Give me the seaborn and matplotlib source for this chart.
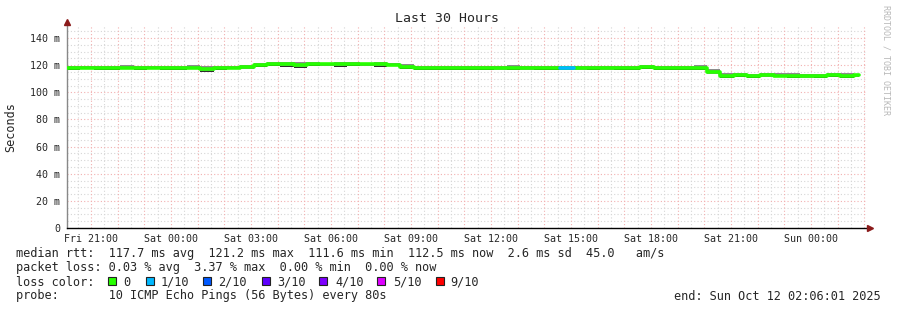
import numpy as np
import pandas as pd
import matplotlib
matplotlib.use("Agg")
import matplotlib.pyplot as plt
import seaborn as sns
from matplotlib.patches import Rectangle

# ---------------- data ----------------
# 30-minute steps, hours since Fri 20:06 (start of the 30 hour window)
step_hours = 0.5
end_hour = 29.7
median_ms = [118.1, 118.0, 118.2, 118.0, 118.1, 118.0, 118.2, 118.0, 118.1, 118.0,
             116.8, 118.0, 118.0, 118.4, 120.3, 120.8, 120.5, 119.8, 120.6, 120.7,
             120.5, 120.8, 120.7, 120.6, 120.4, 118.6, 117.8, 117.9, 117.7, 118.0,
             117.8, 117.9, 117.6, 117.8, 117.7, 117.9, 117.8, 117.9, 117.7, 117.8,
             117.6, 117.8, 117.9, 118.6, 117.8, 117.9, 118.0, 118.2, 114.6, 112.3,
             112.4, 112.2, 112.5, 112.3, 112.1, 111.7, 112.3, 112.4, 112.3, 112.5]
smoke_hi = [119.7, 119.3, 119.7, 119.5, 119.9, 119.4, 119.7, 119.6, 119.4, 120.0,
            119.2, 119.5, 119.3, 120.1, 121.7, 122.3, 122.2, 122.0, 122.3, 121.8,
            122.0, 122.2, 121.8, 122.0, 121.9, 120.9, 119.4, 119.2, 119.6, 119.4,
            119.6, 119.2, 119.4, 119.9, 119.5, 119.3, 119.6, 119.5, 119.4, 119.2,
            119.4, 119.6, 119.7, 120.0, 119.5, 119.2, 119.7, 119.8, 116.9, 113.9,
            114.1, 113.5, 114.0, 114.1, 114.3, 113.6, 113.5, 114.0, 114.2, 113.6]
smoke_lo = [116.5, 116.9, 116.7, 116.5, 116.9, 116.4, 116.8, 116.5, 116.6, 116.9,
            115.3, 116.5, 116.9, 116.9, 118.8, 119.5, 119.0, 118.2, 119.4, 119.1,
            118.9, 119.5, 119.1, 118.9, 119.2, 117.1, 116.2, 116.6, 116.2, 116.4,
            116.7, 116.3, 116.1, 116.6, 116.1, 116.3, 116.7, 116.3, 116.1, 116.6,
            116.1, 116.2, 116.6, 117.0, 116.2, 116.6, 116.4, 116.6, 113.2, 110.8,
            111.2, 110.7, 110.9, 111.2, 110.6, 110.2, 110.8, 111.2, 110.8, 111.0]
loss_tenths = [0] * 37 + [1] + [0] * 22

tick_hours = [0.9, 3.9, 6.9, 9.9, 12.9, 15.9, 18.9, 21.9, 24.9, 27.9]
tick_labels = ["Fri 21:00", "Sat 00:00", "Sat 03:00", "Sat 06:00", "Sat 09:00",
               "Sat 12:00", "Sat 15:00", "Sat 18:00", "Sat 21:00", "Sun 00:00"]
y_ticks = [0, 20, 40, 60, 80, 100, 120, 140]
y_labels = ["0", "20 m", "40 m", "60 m", "80 m", "100 m", "120 m", "140 m"]

loss_names = ["0", "1/10", "2/10", "3/10", "4/10", "5/10", "9/10"]
loss_colors = ["#26ff00", "#00b8ff", "#0059ff", "#5e00ff", "#7e00ff", "#dd00ff", "#ff0000"]
loss_color_by_tenth = {0: "#26ff00", 1: "#00b8ff", 2: "#0059ff", 3: "#5e00ff",
                       4: "#7e00ff", 5: "#dd00ff", 9: "#ff0000"}

stats_line = "median rtt:  117.7 ms avg  121.2 ms max  111.6 ms min  112.5 ms now  2.6 ms sd  45.0   am/s"
loss_line = "packet loss: 0.03 % avg  3.37 % max  0.00 % min  0.00 % now"
probe_line = "probe:       10 ICMP Echo Pings (56 Bytes) every 80s"
end_line = "end: Sun Oct 12 02:06:01 2025"

# ---------------- build step frame ----------------
n = len(median_ms)
starts = [i * step_hours for i in range(n)]
edges_t = starts + [end_hour]
df = pd.DataFrame({"t": edges_t,
                   "median": median_ms + [median_ms[-1]],
                   "hi": smoke_hi + [smoke_hi[-1]],
                   "lo": smoke_lo + [smoke_lo[-1]]})

# ---------------- figure ----------------
sns.set_style("white")
mono = ["DejaVu Sans Mono"]
plt.rcParams["font.family"] = mono

W, H = 897, 310
fig = plt.figure(figsize=(W / 100, H / 100), dpi=100)
ax_left, ax_right, ax_bottom, ax_top = 67, 867, 228, 26
ax = fig.add_axes([ax_left / W, 1 - ax_bottom / H, (ax_right - ax_left) / W,
                   (ax_bottom - ax_top) / H])
ax.set_xlim(0, 30)
ax.set_ylim(0, (ax_bottom - ax_top) / 190 * 140)

# grid
for v in np.arange(0, 149, 5):
    if v % 20 == 0:
        continue
    ax.axhline(v, color="#d6d6d6", lw=0.8, ls=(0, (1, 2)), zorder=0)
for v in y_ticks[1:]:
    ax.axhline(v, color="#f2b0b0", lw=0.8, ls=(0, (1, 2)), zorder=0.5)
for v in np.arange(0.4, 30, 1.0):
    ax.axvline(v, color="#d6d6d6", lw=0.8, ls=(0, (1, 2)), zorder=0)
for v in np.arange(0.9, 30, 1.0):
    ax.axvline(v, color="#f2b0b0", lw=0.8, ls=(0, (1, 2)), zorder=0.5)

# smoke
ax.fill_between(df["t"], df["lo"], df["hi"], step="post", color="#8c8c8c", lw=0, zorder=2)
ax.fill_between(df["t"], df["lo"], df["lo"] + 0.6, step="post", color="#2e2e2e", lw=0, zorder=2.1)

# median line coloured by loss
sns.lineplot(data=df, x="t", y="median", drawstyle="steps-post", color=loss_colors[0],
             lw=2.6, ax=ax, zorder=3, estimator=None)
for i, k in enumerate(loss_tenths):
    if k > 0:
        seg = df.iloc[i:i + 2].copy()
        seg["median"] = median_ms[i]
        sns.lineplot(data=seg, x="t", y="median", drawstyle="steps-post",
                     color=loss_color_by_tenth[k], lw=2.6, ax=ax, zorder=3.5, estimator=None)

# axes styling
for s in ["top", "right"]:
    ax.spines[s].set_visible(False)
ax.spines["left"].set_color("#888888")
ax.spines["left"].set_linewidth(1)
ax.spines["bottom"].set_color("#000000")
ax.spines["bottom"].set_linewidth(1)
ax.spines["bottom"].set_bounds(0, 30.05)
ax.set_xticks(tick_hours)
ax.set_xticklabels(tick_labels, fontsize=7.2)
ax.set_yticks(y_ticks)
ax.set_yticklabels(y_labels, fontsize=7.2)
ax.tick_params(axis="both", length=0, pad=5)
ax.tick_params(axis="x", pad=4)
ax.set_xlabel("")
ax.set_ylabel("Seconds", fontsize=8.5)
ax.yaxis.set_label_coords((17 - ax_left) / 800, 0.5)

# arrows
ax.plot([0], [1 + 4 / 202], marker="^", color="#8b1a1a", ms=4, transform=ax.transAxes,
        clip_on=False, zorder=5)
ax.plot([(870 - ax_left) / 800], [0], marker=">", color="#8b1a1a", ms=4,
        transform=ax.transAxes, clip_on=False, zorder=5)

# title & watermark
fig.text(447 / W, 1 - 19 / H, "Last 30 Hours", ha="center", va="center", fontsize=9.5)
fig.text(886 / W, 1 - 5 / H, "RRDTOOL / TOBI OETIKER", rotation=270, ha="center",
         va="top", fontsize=6, color="#b8b8b8")

# legend text
fs = 8.55
fig.text(16 / W, 1 - 254 / H, stats_line, ha="left", va="center", fontsize=fs)
fig.text(16 / W, 1 - 268 / H, loss_line, ha="left", va="center", fontsize=fs)
fig.text(16 / W, 1 - 282 / H, "loss color:", ha="left", va="center", fontsize=fs)
fig.text(16 / W, 1 - 296 / H, probe_line, ha="left", va="center", fontsize=fs)
fig.text(881 / W, 1 - 296 / H, end_line, ha="right", va="center", fontsize=fs)

sq_x = [108, 146, 203, 262, 319, 377, 436]
txt_x = [123, 161, 218, 277, 335, 393, 450]
for name, col, sx, tx in zip(loss_names, loss_colors, sq_x, txt_x):
    fig.patches.append(Rectangle((sx / W, 1 - 285 / H), 8 / W, 8 / H, transform=fig.transFigure,
                                 facecolor=col, edgecolor="#222222", lw=0.8))
    fig.text(tx / W, 1 - 282 / H, name, ha="left", va="center", fontsize=fs)

fig.savefig("out.png", dpi=100)
